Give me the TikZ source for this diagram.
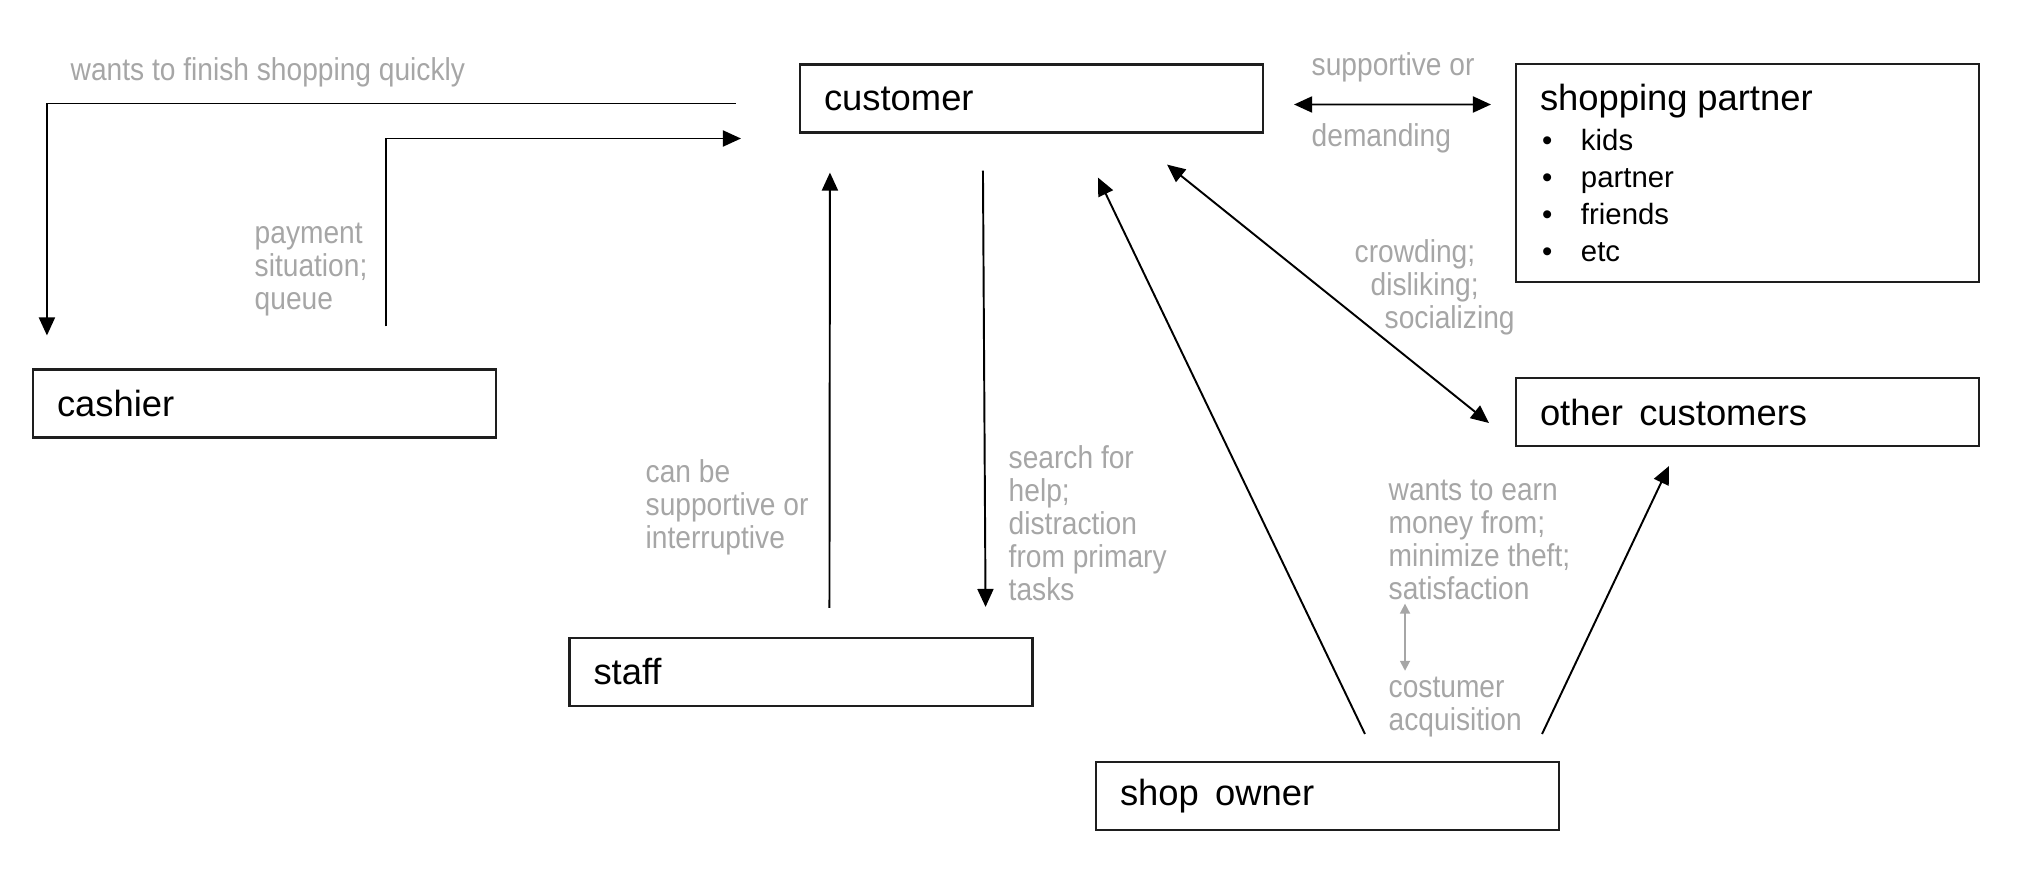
\documentclass[tikz,border=0pt]{standalone}
\usepackage{fontspec}
\setmainfont{Liberation Sans}
\newfontfamily\labelfont[FakeStretch=0.89]{Liberation Sans}
\usepackage{tikz}
\usetikzlibrary{arrows.meta,positioning}
\definecolor{lblgray}{RGB}{166,166,166}
\definecolor{linedark}{RGB}{30,30,30}
\tikzstyle{actor} = [rectangle, draw=linedark, line width=0.6pt, minimum width=4.63cm, minimum height=0.68cm, text width=4.15cm, inner xsep=0.24cm, inner ysep=0pt, align=left, font=\fontsize{10.35}{12}\selectfont]
\tikzstyle{arrow} = [line width=0.55pt, -{Triangle[length=0.18cm,width=0.16cm]}, color=black]
\tikzstyle{twoway} = [line width=0.55pt, {Triangle[length=0.18cm,width=0.16cm]}-{Triangle[length=0.18cm,width=0.16cm]}, color=black]
\tikzstyle{grayway} = [line width=0.5pt, {Triangle[length=0.1cm,width=0.1cm]}-{Triangle[length=0.1cm,width=0.1cm]}, color=lblgray]
\tikzstyle{note} = [anchor=west, inner sep=0pt, align=left, text=lblgray, font=\labelfont\fontsize{9}{9.4}\selectfont]
\newcommand{\listdot}{\makebox[0.41cm][l]{\hspace{0.02cm}\textbullet}}

\begin{document}
\begin{tikzpicture}
\useasboundingbox (0,0) rectangle (20.18,8.68);
% Actors
\node[actor] (customer) at (10.315,7.695) {customer};
\node[actor, minimum height=2.18cm, font=\fontsize{8.35}{10.5}\selectfont] (partner) at (17.475,6.95) {{\fontsize{10.35}{10.5}\selectfont shopping partner}\\[0.9pt]\listdot kids\\\listdot partner\\\listdot friends\\\listdot etc};
\node[actor] (other) at (17.475,4.56) {other\hspace{0.45em}customers};
\node[actor] (cashier) at (2.645,4.645) {cashier};
\node[actor] (staff) at (8.01,1.96) {staff};
\node[actor] (owner) at (13.275,0.72) {shop\hspace{0.45em}owner};

% Relations
\draw[arrow] ([xshift=-0.63cm,yshift=-0.05cm]customer.west) -| ([xshift=0.15cm,yshift=0.33cm]cashier.north west);
\draw[arrow] ([xshift=-1.11cm,yshift=0.42cm]cashier.north east) |- ([xshift=-0.58cm,yshift=-0.40cm]customer.west);
\draw[twoway] ([xshift=0.30cm,yshift=-0.06cm]customer.east) -- ([xshift=-0.24cm,yshift=0.685cm]partner.west);
\draw[twoway] ([xshift=-0.97cm,yshift=-0.31cm]customer.south east) -- ([xshift=-0.26cm,yshift=-0.11cm]other.west);
\draw[arrow] ([xshift=2.61cm,yshift=0.29cm]staff.north west) -- ([xshift=0.31cm,yshift=-0.39cm]customer.south west);
\draw[arrow] ([xshift=1.84cm,yshift=-0.37cm]customer.south west) -- ([xshift=-0.48cm,yshift=0.30cm]staff.north east);
\draw[arrow] ([xshift=2.70cm,yshift=0.27cm]owner.north west) -- ([xshift=2.99cm,yshift=-0.44cm]customer.south west);
\draw[arrow] ([xshift=-0.18cm,yshift=0.27cm]owner.north east) -- ([xshift=1.54cm,yshift=-0.19cm]other.south west);

% Labels
\node[note] (quick) at (0.70,7.96) {wants to finish shopping quickly};
\node[note] (payment) at (2.54,5.98) {payment\\situation;\\queue};
\node[note] (suppor) at (13.11,8.01) {supportive or};
\node[note] (demand) at (13.11,7.30) {demanding};
\node[note] (crowd) at (13.54,5.81) {crowding;\\\hspace*{0.16cm}disliking;\\\hspace*{0.30cm}socializing};
\node[note] (canbe) at (6.45,3.61) {can be\\supportive or\\interruptive};
\node[note] (search) at (10.08,3.45) {search for\\help;\\distraction\\from primary\\tasks};
\node[note] (earn) at (13.88,3.28) {wants to earn\\money from;\\minimize theft;\\satisfaction};
\node[note] (acq) at (13.88,1.605) {costumer\\acquisition};

\draw[grayway] ([xshift=0.17cm,yshift=-0.03cm]earn.south west) -- ([xshift=0.17cm,yshift=0.06cm]acq.north west);
\end{tikzpicture}
\end{document}
